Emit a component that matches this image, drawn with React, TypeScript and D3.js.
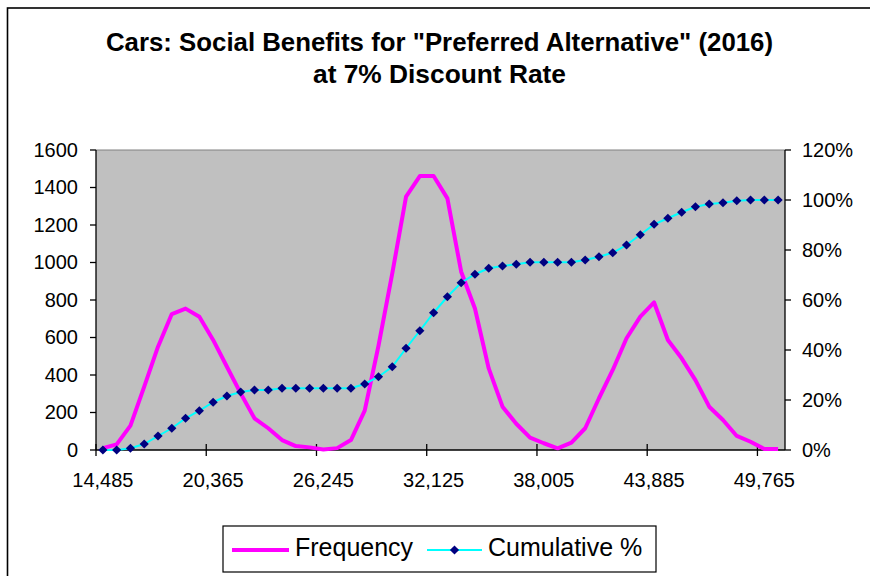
import React from "react";
import * as d3 from "d3";

const bins = [
  14485, 15220, 15955, 16690, 17425, 18160, 18895, 19630, 20365, 21100,
  21835, 22570, 23305, 24040, 24775, 25510, 26245, 26980, 27715, 28450,
  29185, 29920, 30655, 31390, 32125, 32860, 33595, 34330, 35065, 35800,
  36535, 37270, 38005, 38740, 39475, 40210, 40945, 41680, 42415, 43150,
  43885, 44620, 45355, 46090, 46825, 47560, 48295, 49030, 49765, 50500,
];

const frequency = [
  10, 30, 130, 338, 551, 725, 754, 711, 587, 444,
  302, 169, 116, 53, 21, 14, 3, 10, 53, 210,
  556, 942, 1351, 1461, 1461, 1342, 951, 755, 435, 231,
  140, 66, 36, 9, 39, 116, 276, 427, 596, 711,
  787, 587, 489, 373, 231, 160, 75, 44, 5, 5,
];

const cumulative = [
  0, 0, 0.007, 0.024, 0.056, 0.087, 0.127, 0.157, 0.191, 0.216,
  0.232, 0.24, 0.24, 0.247, 0.247, 0.247, 0.247, 0.247, 0.247, 0.264,
  0.293, 0.333, 0.407, 0.477, 0.549, 0.613, 0.669, 0.703, 0.727, 0.736,
  0.743, 0.751, 0.751, 0.751, 0.751, 0.76, 0.773, 0.789, 0.82, 0.861,
  0.903, 0.927, 0.951, 0.973, 0.984, 0.989, 0.997, 1, 1, 1,
];

const leftTicks = [0, 200, 400, 600, 800, 1000, 1200, 1400, 1600];
const rightTicks = [0, 0.2, 0.4, 0.6, 0.8, 1.0, 1.2];
const labelEvery = 8;

const titleLines = [
  'Cars: Social Benefits for "Preferred Alternative" (2016)',
  "at 7% Discount Rate",
];

const FONT = "'Liberation Sans', Arial, Helvetica, sans-serif";

export default function App() {
  const W = 870;
  const H = 576;
  const plot = { left: 96, right: 785, top: 150, bottom: 450 };

  const x = d3
    .scaleBand<number>()
    .domain(bins.map((_, i) => i))
    .range([plot.left, plot.right])
    .paddingInner(0)
    .paddingOuter(0);
  const bw = x.bandwidth();
  const cx = (i: number) => (x(i) as number) + bw / 2;

  const yL = d3.scaleLinear().domain([0, 1600]).range([plot.bottom, plot.top]);
  const yR = d3.scaleLinear().domain([0, 1.2]).range([plot.bottom, plot.top]);

  const freqLine = d3
    .line<number>()
    .x((_, i) => cx(i))
    .y((d) => yL(d))(frequency) as string;
  const cumLine = d3
    .line<number>()
    .x((_, i) => cx(i))
    .y((d) => yR(d))(cumulative) as string;

  const fmt = d3.format(",");
  const pct = d3.format(".0%");

  const tickIdx = bins.map((_, i) => i).filter((i) => i % labelEvery === 0);

  const diamond = (px: number, py: number, r: number) =>
    `M${px},${py - r}L${px + r},${py}L${px},${py + r}L${px - r},${py}Z`;

  return (
    <svg
      width={W}
      height={H}
      style={{ position: "absolute", left: 0, top: 0, background: "#fff" }}
      fontFamily={FONT}
    >
      <rect x={0} y={0} width={W} height={H} fill="#fff" />
      {/* chart frame */}
      <rect x={7.5} y={8} width={W + 20} height={H + 20} fill="#fff" stroke="#000" strokeWidth={1.6} />

      {/* title */}
      <text x={439.5} y={50.7} textAnchor="middle" fontSize={25} fontWeight="bold" fill="#000" textLength={667} lengthAdjust="spacingAndGlyphs">
        {titleLines[0]}
      </text>
      <text x={439.5} y={83} textAnchor="middle" fontSize={25} fontWeight="bold" fill="#000" textLength={253} lengthAdjust="spacingAndGlyphs">
        {titleLines[1]}
      </text>

      {/* plot area */}
      <rect x={plot.left} y={plot.top} width={plot.right - plot.left} height={plot.bottom - plot.top} fill="#C0C0C0" />
      <line x1={plot.left} x2={plot.right} y1={plot.top} y2={plot.top} stroke="#808080" strokeWidth={1} />

      {/* left axis */}
      <line x1={plot.left} x2={plot.left} y1={plot.top} y2={plot.bottom} stroke="#000" strokeWidth={1.3} />
      {leftTicks.map((t) => (
        <g key={"l" + t}>
          <line x1={plot.left - 6} x2={plot.left} y1={yL(t)} y2={yL(t)} stroke="#000" strokeWidth={1.3} />
          <text x={78} y={yL(t) + 6.5} textAnchor="end" fontSize={20} fill="#000">
            {t}
          </text>
        </g>
      ))}

      {/* right axis */}
      <line x1={plot.right} x2={plot.right} y1={plot.top} y2={plot.bottom} stroke="#000" strokeWidth={1.3} />
      {rightTicks.map((t) => (
        <g key={"r" + t}>
          <line x1={plot.right} x2={plot.right + 6} y1={yR(t)} y2={yR(t)} stroke="#000" strokeWidth={1.3} />
          <text x={802} y={yR(t) + 6.5} textAnchor="start" fontSize={20} fill="#000">
            {pct(t)}
          </text>
        </g>
      ))}

      {/* bottom axis */}
      <line x1={plot.left} x2={plot.right} y1={plot.bottom} y2={plot.bottom} stroke="#000" strokeWidth={1.3} />
      {tickIdx.map((i) => (
        <g key={"b" + i}>
          <line x1={x(i) as number} x2={x(i) as number} y1={plot.bottom - 6} y2={plot.bottom + 6} stroke="#000" strokeWidth={1.3} />
          <text x={cx(i)} y={486.5} textAnchor="middle" fontSize={20} fill="#000">
            {fmt(bins[i])}
          </text>
        </g>
      ))}

      {/* series */}
      <path d={freqLine} fill="none" stroke="#FF00FF" strokeWidth={4} strokeLinejoin="round" />
      <path d={cumLine} fill="none" stroke="#00FFFF" strokeWidth={2} />
      {cumulative.map((d, i) => (
        <path key={"m" + i} d={diamond(cx(i), yR(d), 4.6)} fill="#000080" />
      ))}

      {/* legend */}
      <rect x={223} y={526} width={433} height={46} fill="#fff" stroke="#000" strokeWidth={1.2} />
      <line x1={232} x2={289} y1={550} y2={550} stroke="#FF00FF" strokeWidth={4} />
      <text x={295} y={556} fontSize={25} fill="#000">Frequency</text>
      <line x1={427} x2={482} y1={550} y2={550} stroke="#00FFFF" strokeWidth={2} />
      <path d={diamond(454.5, 550, 4.6)} fill="#000080" />
      <text x={488} y={556} fontSize={25} fill="#000">Cumulative %</text>
    </svg>
  );
}
